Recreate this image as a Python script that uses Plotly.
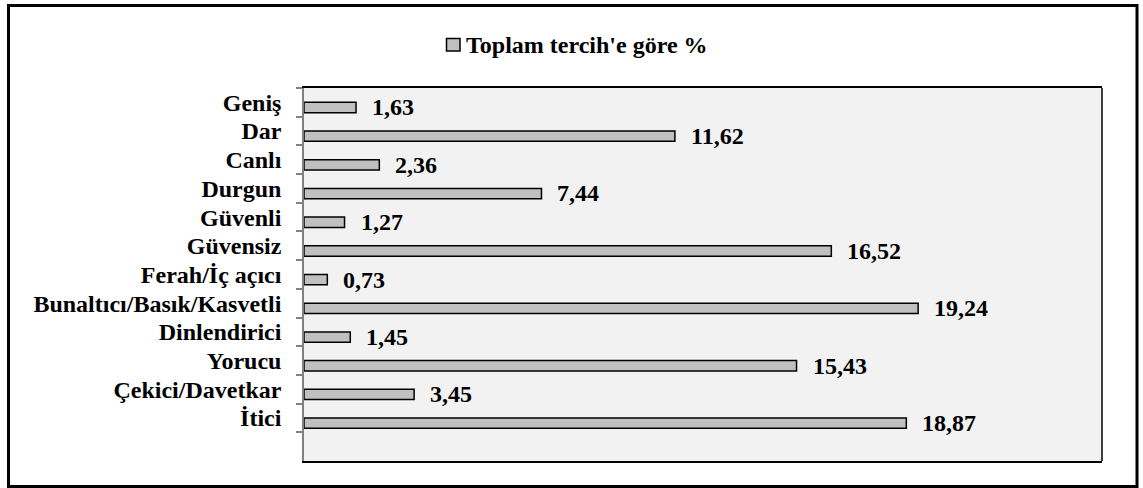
import plotly.graph_objects as go

categories = ["Geniş", "Dar", "Canlı", "Durgun", "Güvenli", "Güvensiz",
              "Ferah/İç açıcı", "Bunaltıcı/Basık/Kasvetli", "Dinlendirici",
              "Yorucu", "Çekici/Davetkar", "İtici"]
values = [1.63, 11.62, 2.36, 7.44, 1.27, 16.52, 0.73, 19.24, 1.45, 15.43, 3.45, 18.87]
series_name = "Toplam tercih'e göre %"
blank_slot = " "

W, H = 1143, 488
L, R, T, B = 304, 41, 88, 27
pw, ph = W - L - R, H - T - B

def px_x(x):
    return (x - L) / pw

def px_y(y):
    return 1 - (y - T) / ph

FONT = dict(family="'Liberation Serif', 'Times New Roman', serif",
            size=24, color="black", weight="bold")

fig = go.Figure()
fig.add_trace(go.Bar(
    x=values, y=categories, orientation="h", name=series_name,
    marker=dict(color="#c0c0c0", line=dict(color="black", width=1.5)),
    width=0.36, offset=0, showlegend=False, hoverinfo="x+y",
))

labels = [f"{v:.2f}".replace(".", ",") for v in values]
for c, v, t in zip(categories, values, labels):
    fig.add_annotation(x=v, y=c, text=t, showarrow=False, xanchor="left", yanchor="middle",
                       xshift=14, yshift=-5, font=FONT)

# legend (manual)
fig.add_shape(type="rect", xref="paper", yref="paper",
              x0=px_x(446.5), x1=px_x(460), y0=px_y(51), y1=px_y(38.5),
              fillcolor="#c0c0c0", line=dict(color="black", width=1.5))
fig.add_annotation(xref="paper", yref="paper", x=px_x(464), y=px_y(44.5), text=series_name,
                   showarrow=False, xanchor="left", yanchor="middle", font=FONT)

# right border of plot area
fig.add_shape(type="line", xref="paper", yref="paper", x0=1, x1=1, y0=0, y1=1,
              line=dict(color="black", width=1.5))
# outer chart border
fig.add_shape(type="rect", xref="paper", yref="paper",
              x0=px_x(8.5), x1=px_x(1137), y0=px_y(486.5), y1=px_y(5.5),
              line=dict(color="black", width=3), layer="above")

fig.update_layout(
    width=W, height=H,
    margin=dict(l=L, r=R, t=T, b=B),
    paper_bgcolor="white", plot_bgcolor="#f2f2f2",
    font=FONT,
    bargap=0.64,
)
fig.update_xaxes(range=[0, 25], showgrid=False, zeroline=False, showticklabels=False,
                 ticks="", showline=True, linecolor="black", linewidth=1.5, mirror=True,
                 fixedrange=True)
fig.update_yaxes(type="category", categoryorder="array",
                 categoryarray=categories + [blank_slot],
                 range=[len(categories) + 0.5, -0.5],
                 tickmode="linear", tick0=0, dtick=1,
                 showgrid=False, zeroline=False,
                 showline=True, linecolor="#808080", linewidth=1.5,
                 ticks="outside", tickson="boundaries", ticklen=6, tickcolor="#808080", tickwidth=1.5,
                 ticklabelstandoff=16,
                 tickfont=FONT, fixedrange=True)

fig.write_html("out.html", config={"displayModeBar": False},
               post_script="document.body.style.margin='0';document.body.style.overflow='hidden';")
